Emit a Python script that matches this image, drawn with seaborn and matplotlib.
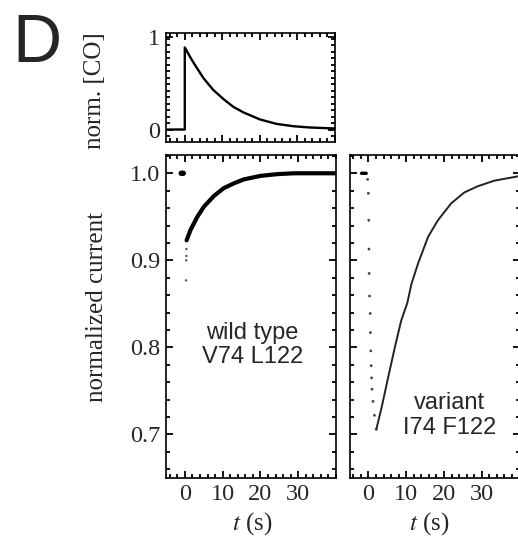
import numpy as np
import matplotlib
matplotlib.use("Agg")
import matplotlib.pyplot as plt
from matplotlib.ticker import MultipleLocator
import seaborn as sns

# top panel: normalized CO pulse
co_t = [-5.0, 0.0, 0.0, 1.2, 2.4, 5.0, 7.6, 10.3, 12.9, 15.6, 20.0, 24.4, 28.8, 33.2, 40.0]
co_y = [0.0, 0.0, 0.887, 0.80, 0.717, 0.554, 0.427, 0.329, 0.246, 0.185, 0.109, 0.061, 0.036, 0.022, 0.011]

# wild type current
wt_pre_t = [-1.0, -0.8, -0.6, -0.4]
wt_pre_y = [1.0, 1.0, 1.0, 1.0]
wt_jump_t = [0.4, 0.4, 0.35, 0.3]
wt_jump_y = [0.913, 0.905, 0.900, 0.877]
wt_t = [0.45, 1.5, 3.3, 5.0, 7.7, 10.3, 13.0, 15.6, 20.0, 24.4, 28.8, 34.0, 40.0]
wt_y = [0.923, 0.935, 0.950, 0.9615, 0.974, 0.983, 0.9885, 0.993, 0.997, 0.999, 1.0, 1.0, 1.0]

# variant current
var_pre_t = [-1.8, -1.4, -1.0, -0.6]
var_pre_y = [1.0, 1.0, 1.0, 1.0]
var_drop_t = [-0.2, 0.0, 0.1, 0.15, 0.2, 0.3, 0.47, 0.55, 0.64, 0.75, 0.85, 0.97, 1.23, 1.6, 2.1]
var_drop_y = [0.993, 0.977, 0.946, 0.913, 0.885, 0.859, 0.839, 0.817, 0.796, 0.779, 0.765, 0.752, 0.738, 0.722, 0.706]
var_t = [2.1, 3.5, 5.2, 7.0, 8.7, 10.3, 11.4, 13.2, 15.8, 18.4, 21.9, 25.4, 28.9, 33.3, 39.0, 40.0]
var_y = [0.706, 0.731, 0.765, 0.800, 0.831, 0.851, 0.873, 0.897, 0.927, 0.946, 0.9654, 0.978, 0.985, 0.9915, 0.996, 0.997]

x_ticks = [0, 10, 20, 30]
cur_ticks = [0.7, 0.8, 0.9, 1.0]

sns.set_style("ticks")
plt.rcParams['font.family'] = ['Liberation Serif', 'DejaVu Serif']
plt.rcParams['mathtext.fontset'] = 'stix'
plt.rcParams['axes.linewidth'] = 1.2

W, H = 518, 537
fig = plt.figure(figsize=(W / 100, H / 100), dpi=100)

def px_axes(left, top, right, bottom):
    return fig.add_axes([left / W, 1 - bottom / H, (right - left) / W, (bottom - top) / H])

ax_co = px_axes(166, 33, 335, 142)
ax_wt = px_axes(166, 155, 336, 478)
ax_var = px_axes(349.5, 155, 519.5, 478)

def style(ax):
    ax.tick_params(which='both', direction='in', top=True, right=True, width=1.3, color='black')
    ax.tick_params(which='major', length=5, labelsize=17.5, pad=4)
    ax.tick_params(which='minor', length=3)
    ax.set_xlim(-5, 40)
    ax.xaxis.set_major_locator(MultipleLocator(10))
    ax.xaxis.set_minor_locator(MultipleLocator(2))
    for s in ax.spines.values():
        s.set_color('black')

# CO panel
sns.lineplot(x=co_t, y=co_y, ax=ax_co, sort=False, estimator=None, color='black', lw=1.7)
style(ax_co)
ax_co.set_ylim(-0.135, 1.043)
ax_co.set_yticks([0, 1])
ax_co.set_yticklabels(['0', '1'])
ax_co.yaxis.set_minor_locator(MultipleLocator(0.07))
ax_co.set_xticklabels([])
ax_co.set_xlabel('')
ax_co.set_ylabel('norm. [CO]', fontsize=18)
ax_co.yaxis.set_label_coords(-0.355, 0.47)

# wild type panel
sns.scatterplot(x=wt_pre_t, y=wt_pre_y, ax=ax_wt, color='black', s=14, edgecolor='none')
sns.scatterplot(x=wt_jump_t, y=wt_jump_y, ax=ax_wt, color='#555555', s=3, edgecolor='none')
sns.lineplot(x=wt_t, y=wt_y, ax=ax_wt, sort=False, estimator=None, color='black', lw=3.0)
style(ax_wt)
ax_wt.set_ylim(0.650, 1.021)
ax_wt.set_yticks(cur_ticks)
ax_wt.set_yticklabels(['0.7', '0.8', '0.9', '1.0'])
ax_wt.yaxis.set_minor_locator(MultipleLocator(0.02))
ax_wt.set_xticks(x_ticks)
ax_wt.set_ylabel('normalized current', fontsize=18)
ax_wt.yaxis.set_label_coords(-0.34, 0.53)
ax_wt.set_xlabel(r'$t$ (s)', fontsize=18)
ax_wt.xaxis.set_label_coords(0.51, -0.1)
ax_wt.text(17.9, 0.803, 'wild type\nV74 L122', ha='center', va='center',
           fontsize=17, family='Liberation Sans', linespacing=1.15)

# variant panel
sns.scatterplot(x=var_pre_t, y=var_pre_y, ax=ax_var, color='black', s=6, edgecolor='none')
sns.scatterplot(x=var_drop_t, y=var_drop_y, ax=ax_var, color='#444444', s=4, edgecolor='none')
sns.lineplot(x=var_t, y=var_y, ax=ax_var, sort=False, estimator=None, color='#222222', lw=1.4)
style(ax_var)
ax_var.set_ylim(0.650, 1.021)
ax_var.set_yticks(cur_ticks)
ax_var.set_yticklabels([])
ax_var.yaxis.set_minor_locator(MultipleLocator(0.02))
ax_var.set_xticks(x_ticks)
ax_var.set_ylabel('')
ax_var.set_xlabel(r'$t$ (s)', fontsize=18)
ax_var.xaxis.set_label_coords(0.47, -0.1)
ax_var.text(21.4, 0.722, 'variant\nI74 F122', ha='center', va='center',
            fontsize=17, family='Liberation Sans', linespacing=1.15)

fig.text(12 / W, 1 - 62 / H, 'D', fontsize=49, family='Liberation Sans', va='baseline')

fig.savefig('out.png', dpi=100)
